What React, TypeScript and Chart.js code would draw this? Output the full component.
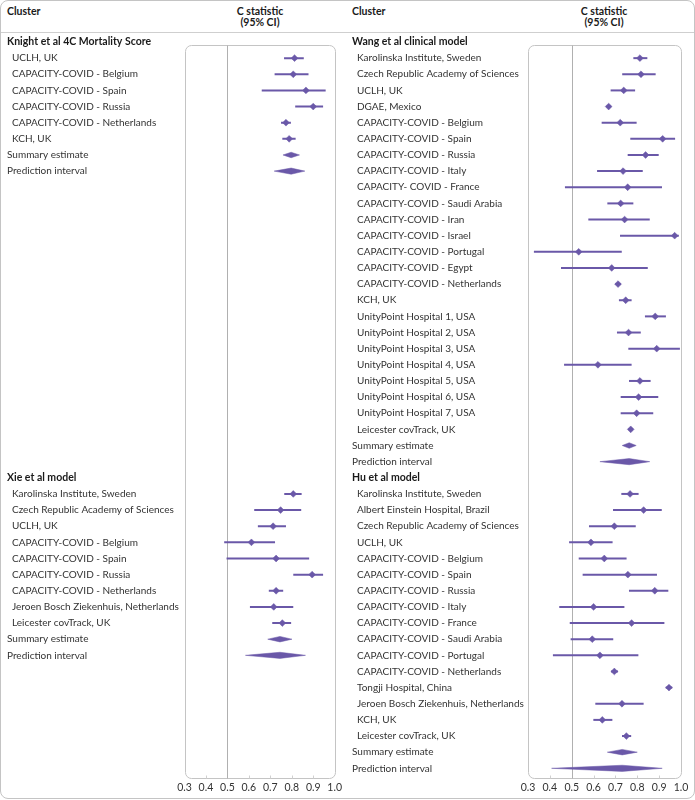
import React, { useEffect, useRef } from "react";
import { Chart, registerables } from "chart.js";

Chart.register(...registerables);

const FONT = "Lato, 'Open Sans', sans-serif";
const PURPLE = "#6a58a8";
const TEXT = "#333333";
const FRAME = "#c4c4c4";

// ---------- axis ----------
const xTicks = [0.3, 0.4, 0.5, 0.6, 0.7, 0.8, 0.9, 1.0];
const REF_VALUE = 0.5;

// ---------- Knight et al 4C Mortality Score ----------
const knightTitle = "Knight et al 4C Mortality Score";
const knightLabels = ["UCLH, UK", "CAPACITY-COVID - Belgium", "CAPACITY-COVID - Spain", "CAPACITY-COVID - Russia", "CAPACITY-COVID - Netherlands", "KCH, UK"];
const knightEst = [0.813, 0.807, 0.866, 0.900, 0.773, 0.788];
const knightLo = [0.764, 0.720, 0.660, 0.816, 0.750, 0.756];
const knightHi = [0.856, 0.878, 0.958, 0.946, 0.796, 0.818];
const knightSummary = [0.759, 0.797, 0.836];
const knightPI = [0.718, 0.797, 0.861];

// ---------- Xie et al model ----------
const xieTitle = "Xie et al model";
const xieLabels = ["Karolinska Institute, Sweden", "Czech Republic Academy of Sciences", "UCLH, UK", "CAPACITY-COVID - Belgium", "CAPACITY-COVID - Spain", "CAPACITY-COVID - Russia", "CAPACITY-COVID - Netherlands", "Jeroen Bosch Ziekenhuis, Netherlands", "Leicester covTrack, UK"];
const xieEst = [0.807, 0.748, 0.713, 0.612, 0.727, 0.895, 0.727, 0.716, 0.756];
const xieLo = [0.765, 0.625, 0.642, 0.485, 0.496, 0.807, 0.693, 0.605, 0.709];
const xieHi = [0.846, 0.844, 0.773, 0.722, 0.881, 0.946, 0.760, 0.807, 0.797];
const xieSummary = [0.688, 0.745, 0.801];
const xiePI = [0.584, 0.745, 0.864];

// ---------- Wang et al clinical model ----------
const wangTitle = "Wang et al clinical model";
const wangLabels = ["Karolinska Institute, Sweden", "Czech Republic Academy of Sciences", "UCLH, UK", "DGAE, Mexico", "CAPACITY-COVID - Belgium", "CAPACITY-COVID - Spain", "CAPACITY-COVID - Russia", "CAPACITY-COVID - Italy", "CAPACITY- COVID - France", "CAPACITY-COVID - Saudi Arabia", "CAPACITY-COVID - Iran", "CAPACITY-COVID - Israel", "CAPACITY-COVID - Portugal", "CAPACITY-COVID - Egypt", "CAPACITY-COVID - Netherlands", "KCH, UK", "UnityPoint Hospital 1, USA", "UnityPoint Hospital 2, USA", "UnityPoint Hospital 3, USA", "UnityPoint Hospital 4, USA", "UnityPoint Hospital 5, USA", "UnityPoint Hospital 6, USA", "UnityPoint Hospital 7, USA", "Leicester covTrack, UK"];
const wangEst = [0.812, 0.817, 0.738, 0.669, 0.722, 0.916, 0.838, 0.735, 0.756, 0.724, 0.742, 0.971, 0.532, 0.683, 0.712, 0.747, 0.882, 0.760, 0.889, 0.620, 0.812, 0.806, 0.797, 0.770];
const wangLo = [0.782, 0.731, 0.678, 0.660, 0.637, 0.768, 0.756, 0.616, 0.469, 0.663, 0.576, 0.721, 0.327, 0.451, 0.700, 0.716, 0.835, 0.707, 0.759, 0.465, 0.762, 0.724, 0.724, 0.760];
const wangHi = [0.846, 0.884, 0.790, 0.678, 0.797, 0.973, 0.898, 0.825, 0.913, 0.782, 0.857, 0.990, 0.729, 0.848, 0.724, 0.774, 0.931, 0.816, 0.995, 0.774, 0.861, 0.896, 0.873, 0.780];
const wangSummary = [0.731, 0.763, 0.795];
const wangPI = [0.629, 0.763, 0.857];

// ---------- Hu et al model ----------
const huTitle = "Hu et al model";
const huLabels = ["Karolinska Institute, Sweden", "Albert Einstein Hospital, Brazil", "Czech Republic Academy of Sciences", "UCLH, UK", "CAPACITY-COVID - Belgium", "CAPACITY-COVID - Spain", "CAPACITY-COVID - Russia", "CAPACITY-COVID - Italy", "CAPACITY-COVID - France", "CAPACITY-COVID - Saudi Arabia", "CAPACITY-COVID - Portugal", "CAPACITY-COVID - Netherlands", "Tongji Hospital, China", "Jeroen Bosch Ziekenhuis, Netherlands", "KCH, UK", "Leicester covTrack, UK"];
const huEst = [0.767, 0.829, 0.695, 0.588, 0.649, 0.757, 0.880, 0.600, 0.774, 0.594, 0.629, 0.695, 0.945, 0.730, 0.640, 0.750];
const huLo = [0.727, 0.689, 0.579, 0.488, 0.532, 0.550, 0.762, 0.443, 0.491, 0.495, 0.414, 0.680, 0.930, 0.608, 0.599, 0.730];
const huHi = [0.806, 0.912, 0.793, 0.687, 0.751, 0.890, 0.942, 0.741, 0.924, 0.690, 0.805, 0.712, 0.960, 0.829, 0.686, 0.772];
const huSummary = [0.663, 0.731, 0.800];
const huPI = [0.408, 0.731, 0.914];

const SUMMARY_LABEL = "Summary estimate";
const PI_LABEL = "Prediction interval";
const SECOND_SECTION_ROW = 27;
const LAST_ROW = 45.6;
const BOX_TOP_ROW = 0.2;

type Section = {
  start: number;
  title: string;
  labels: string[];
  est: number[];
  lo: number[];
  hi: number[];
  summary: number[];
  pi: number[];
};

const leftSections: Section[] = [
  { start: 0, title: knightTitle, labels: knightLabels, est: knightEst, lo: knightLo, hi: knightHi, summary: knightSummary, pi: knightPI },
  { start: SECOND_SECTION_ROW, title: xieTitle, labels: xieLabels, est: xieEst, lo: xieLo, hi: xieHi, summary: xieSummary, pi: xiePI },
];
const rightSections: Section[] = [
  { start: 0, title: wangTitle, labels: wangLabels, est: wangEst, lo: wangLo, hi: wangHi, summary: wangSummary, pi: wangPI },
  { start: SECOND_SECTION_ROW, title: huTitle, labels: huLabels, est: huEst, lo: huLo, hi: huHi, summary: huSummary, pi: huPI },
];

function diamond(vals: number[], row: number, h: number) {
  const [lo, est, hi] = vals;
  return {
    data: [
      { x: lo, y: row },
      { x: est, y: row - h },
      { x: hi, y: row },
      { x: est, y: row + h },
      { x: lo, y: row },
    ],
    borderColor: PURPLE,
    backgroundColor: PURPLE,
    borderWidth: 0.5,
    pointRadius: 0,
    fill: "shape",
    tension: 0,
  };
}

const boxPlugin = {
  id: "forestBox",
  beforeDatasetsDraw(chart: any) {
    const { ctx, chartArea, scales } = chart;
    const x = scales.x;
    const y = scales.y;
    const top = Math.round(y.getPixelForValue(BOX_TOP_ROW)) + 0.5;
    const bottom = Math.round(chartArea.bottom) + 0.5;
    const left = Math.round(chartArea.left) + 0.5;
    const right = Math.round(chartArea.right) + 0.5;
    const r = 6;
    ctx.save();
    ctx.strokeStyle = FRAME;
    ctx.lineWidth = 1;
    ctx.beginPath();
    ctx.moveTo(left + r, top);
    ctx.lineTo(right - r, top);
    ctx.arcTo(right, top, right, top + r, r);
    ctx.lineTo(right, bottom - r);
    ctx.arcTo(right, bottom, right - r, bottom, r);
    ctx.lineTo(left + r, bottom);
    ctx.arcTo(left, bottom, left, bottom - r, r);
    ctx.lineTo(left, top + r);
    ctx.arcTo(left, top, left + r, top, r);
    ctx.closePath();
    ctx.stroke();
    const xr = Math.round(x.getPixelForValue(REF_VALUE)) + 0.5;
    ctx.strokeStyle = "#b0b0b0";
    ctx.beginPath();
    ctx.moveTo(xr, top);
    ctx.lineTo(xr, bottom);
    ctx.stroke();
    ctx.strokeStyle = "#d0d0d0";
    for (const v of xTicks) {
      if (v === REF_VALUE || v === xTicks[0] || v === xTicks[xTicks.length - 1]) continue;
      const px = Math.round(x.getPixelForValue(v)) + 0.5;
      ctx.beginPath();
      ctx.moveTo(px, bottom - 3);
      ctx.lineTo(px, bottom);
      ctx.stroke();
    }
    ctx.restore();
  },
};

function buildConfig(sections: Section[], padLeft: number, padRight: number, axisWidth: number) {
  const labelMap = new Map<number, { text: string; bold: boolean }>();
  const datasets: any[] = [];
  const pts: { x: number; y: number }[] = [];
  for (const s of sections) {
    labelMap.set(s.start, { text: s.title, bold: true });
    s.labels.forEach((l, i) => {
      const r = s.start + 1 + i;
      labelMap.set(r, { text: "\u2002" + l, bold: false });
      datasets.push({
        data: [
          { x: s.lo[i], y: r },
          { x: s.hi[i], y: r },
        ],
        borderColor: PURPLE,
        borderWidth: 2,
        pointRadius: 0,
        fill: false,
      });
      pts.push({ x: s.est[i], y: r });
    });
    const rs = s.start + 1 + s.labels.length;
    labelMap.set(rs, { text: SUMMARY_LABEL, bold: false });
    labelMap.set(rs + 1, { text: PI_LABEL, bold: false });
    datasets.push(diamond(s.summary, rs, 0.17));
    datasets.push(diamond(s.pi, rs + 1, 0.19));
  }
  datasets.push({
    data: pts,
    showLine: false,
    pointStyle: "rectRot",
    pointRadius: 3.4,
    pointBackgroundColor: PURPLE,
    pointBorderColor: PURPLE,
    pointBorderWidth: 0.5,
  });
  const rows = Array.from(labelMap.keys()).sort((a, b) => a - b);
  return {
    type: "line",
    data: { datasets },
    plugins: [boxPlugin],
    options: {
      animation: false,
      responsive: false,
      events: [],
      layout: { padding: { left: padLeft, right: padRight, top: 42, bottom: 2 } },
      plugins: { legend: { display: false }, tooltip: { enabled: false } },
      scales: {
        x: {
          type: "linear",
          min: xTicks[0],
          max: xTicks[xTicks.length - 1],
          grid: { display: false, drawTicks: false },
          border: { display: false },
          afterBuildTicks: (axis: any) => {
            axis.ticks = xTicks.map((v) => ({ value: v }));
          },
          afterFit: (axis: any) => {
            axis.height = 20;
          },
          ticks: {
            padding: 3,
            color: TEXT,
            font: { family: FONT, size: 10.5 },
            callback: (v: any) => Number(v).toFixed(1),
          },
        },
        y: {
          type: "linear",
          reverse: true,
          min: 0,
          max: LAST_ROW,
          grid: { display: false, drawTicks: false },
          border: { display: false },
          afterBuildTicks: (axis: any) => {
            axis.ticks = rows.map((v) => ({ value: v }));
          },
          afterFit: (axis: any) => {
            axis.width = axisWidth;
          },
          ticks: {
            crossAlign: "far",
            autoSkip: false,
            color: (ctx: any) => (labelMap.get(ctx.tick?.value)?.bold ? "#1a1a1a" : TEXT),
            font: (ctx: any) => {
              const bold = labelMap.get(ctx.tick?.value)?.bold;
              return { family: FONT, size: bold ? 10.5 : 10, weight: bold ? "bold" : "normal" };
            },
            callback: (v: any) => labelMap.get(Number(v))?.text ?? "",
          },
        },
      },
    },
  };
}

function ForestPanel({ sections, width, padLeft, padRight, axisWidth }: any) {
  const ref = useRef<HTMLCanvasElement | null>(null);
  useEffect(() => {
    if (!ref.current) return;
    const chart = new Chart(ref.current, buildConfig(sections, padLeft, padRight, axisWidth) as any);
    return () => chart.destroy();
  }, []);
  return <canvas ref={ref} width={width} height={800} style={{ display: "block", width, height: 800 }} />;
}

const headerStyle: React.CSSProperties = {
  position: "absolute",
  fontFamily: FONT,
  fontWeight: "bold",
  fontSize: 10.5,
  color: "#1a1a1a",
  lineHeight: "11px",
};

export default function App() {
  return (
    <div style={{ position: "absolute", left: 0, top: 0, width: 695, height: 800, background: "#fff" }}>
      <div style={{ position: "absolute", left: 0, top: 0, width: 693, height: 797, border: `1px solid ${FRAME}`, borderRadius: 8 }} />
      <div style={{ position: "absolute", left: 1, top: 32, width: 693, height: 1, background: "#cfcfcf" }} />
      <div style={{ ...headerStyle, left: 7, top: 6 }}>Cluster</div>
      <div style={{ ...headerStyle, left: 210, top: 6, width: 100, textAlign: "center" }}>C statistic<br />(95% CI)</div>
      <div style={{ ...headerStyle, left: 352, top: 6 }}>Cluster</div>
      <div style={{ ...headerStyle, left: 554, top: 6, width: 100, textAlign: "center" }}>C statistic<br />(95% CI)</div>
      <div style={{ position: "absolute", left: 0, top: 0 }}>
        <ForestPanel sections={leftSections} width={345} padLeft={7} padRight={10} axisWidth={177.5} />
      </div>
      <div style={{ position: "absolute", left: 345, top: 0 }}>
        <ForestPanel sections={rightSections} width={350} padLeft={7} padRight={14} axisWidth={176} />
      </div>
    </div>
  );
}
